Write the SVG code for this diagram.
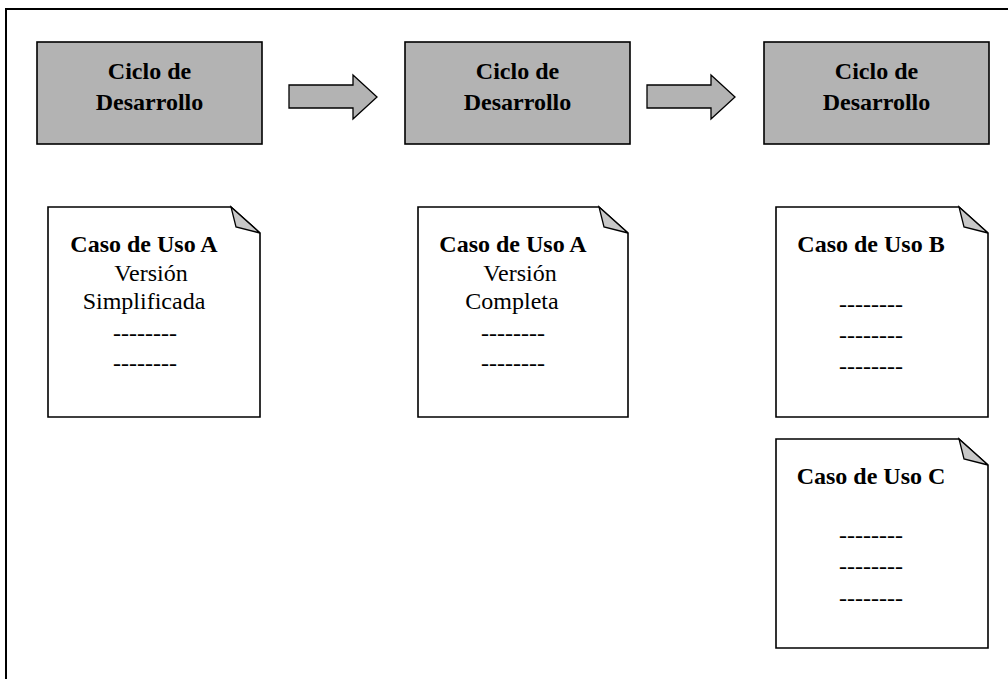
<svg xmlns="http://www.w3.org/2000/svg" width="1008" height="679" viewBox="0 0 1008 679">
<style>
.frame{fill:none;stroke:#000;stroke-width:2}
.box{fill:#b3b3b3;stroke:#000;stroke-width:1.6}
.arrow{fill:#b3b3b3;stroke:#000;stroke-width:1.3;stroke-linejoin:miter}
.doc{fill:#fff;stroke:#000;stroke-width:1.6;stroke-linejoin:miter}
.flap{fill:#c8c8c8;stroke:#000;stroke-width:1.3;stroke-linejoin:miter}
text{font-family:"Liberation Serif","Times New Roman",serif;font-size:24px;fill:#000;text-anchor:middle}
.b{font-weight:bold}
</style>
<rect x="0" y="0" width="1008" height="679" fill="#fff"/>
<rect class="frame" x="6" y="9" width="1010" height="680"/>

<g id="ciclo1">
<rect class="box" x="37" y="42" width="225" height="102"/>
<text class="b" x="149.5" y="79">Ciclo de</text>
<text class="b" x="149.5" y="110">Desarrollo</text>
</g>
<g id="ciclo2">
<rect class="box" x="405" y="42" width="225" height="102"/>
<text class="b" x="517.5" y="79">Ciclo de</text>
<text class="b" x="517.5" y="110">Desarrollo</text>
</g>
<g id="ciclo3">
<rect class="box" x="764" y="42" width="225" height="102"/>
<text class="b" x="876.5" y="79">Ciclo de</text>
<text class="b" x="876.5" y="110">Desarrollo</text>
</g>

<g id="connectors">
<path class="arrow" d="M289,85 H353 V75 L377,97 L353,119 V108 H289 Z"/>
<path class="arrow" d="M647,85 H711 V75 L735,97 L711,119 V108 H647 Z"/>
</g>

<g id="docA1">
<path class="doc" d="M48,207 H231 L260,233 V417 H48 Z"/>
<path class="flap" d="M231,207 L260,233 L236,227 Z"/>
<text class="b" x="144" y="252">Caso de Uso A</text>
<text x="151" y="281">Versión</text>
<text x="144" y="309">Simplificada</text>
<text x="145" y="341">--------</text>
<text x="145" y="371">--------</text>
</g>
<g id="docA2">
<path class="doc" d="M418,207 H599 L628,233 V417 H418 Z"/>
<path class="flap" d="M599,207 L628,233 L604,227 Z"/>
<text class="b" x="513" y="252">Caso de Uso A</text>
<text x="520" y="281">Versión</text>
<text x="512" y="309">Completa</text>
<text x="513" y="341">--------</text>
<text x="513" y="371">--------</text>
</g>
<g id="docB">
<path class="doc" d="M776,207 H959 L988,233 V417 H776 Z"/>
<path class="flap" d="M959,207 L988,233 L964,227 Z"/>
<text class="b" x="871" y="252">Caso de Uso B</text>
<text x="871" y="312">--------</text>
<text x="871" y="343">--------</text>
<text x="871" y="374">--------</text>
</g>
<g id="docC">
<path class="doc" d="M776,439 H959 L988,465 V648 H776 Z"/>
<path class="flap" d="M959,439 L988,465 L964,459 Z"/>
<text class="b" x="871" y="484">Caso de Uso C</text>
<text x="871" y="543">--------</text>
<text x="871" y="574">--------</text>
<text x="871" y="606">--------</text>
</g>
</svg>
